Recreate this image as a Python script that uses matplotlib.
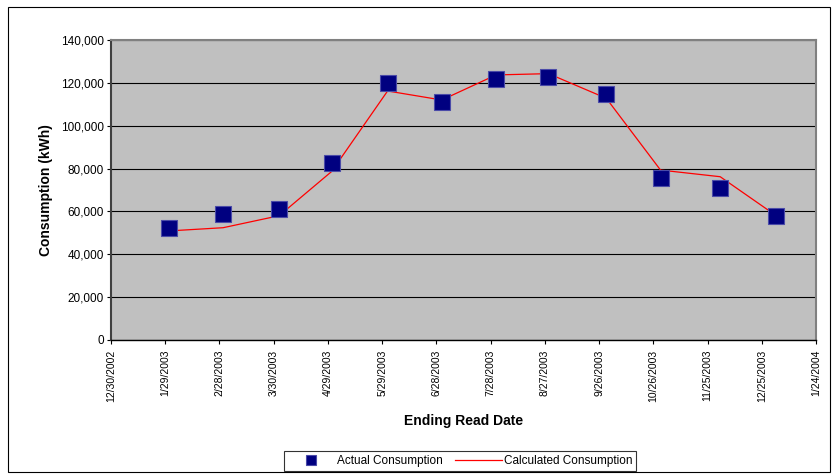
import datetime as dt

import matplotlib
matplotlib.use("Agg")
import matplotlib.pyplot as plt
from matplotlib.patches import Rectangle

plt.rcParams["font.family"] = ["Liberation Sans", "DejaVu Sans"]

# Data
read_dates = ["2003-01-31", "2003-03-02", "2003-04-02", "2003-05-01", "2003-06-01", "2003-07-01",
              "2003-07-31", "2003-08-29", "2003-09-30", "2003-10-30", "2003-12-02", "2004-01-02"]
actual_kwh = [52400, 58600, 61100, 82400, 119800, 110900,
              121600, 122900, 114600, 75400, 71100, 58000]
calculated_kwh = [50900, 52400, 58000, 78600, 116200, 112000,
                  123700, 124300, 112800, 79300, 76200, 58000]

tick_start = dt.date(2002, 12, 30)
tick_count = 14
tick_step_days = 30

dates = [dt.date.fromisoformat(d) for d in read_dates]
ticks = [tick_start + dt.timedelta(days=tick_step_days * i) for i in range(tick_count)]

fig = plt.figure(figsize=(8.35, 4.74), dpi=100)
ax = fig.add_axes([111 / 835, 1 - 340 / 474, 705 / 835, 300 / 474])
ax.set_facecolor("#C0C0C0")

# Outer chart frame
fig.patches.append(Rectangle((8 / 835, 2 / 474), 822 / 835, 465 / 474, transform=fig.transFigure,
                             fill=False, edgecolor="black", linewidth=0.8))

ax.plot(dates, calculated_kwh, color="red", linewidth=0.9, label="Calculated Consumption", zorder=3)
ax.plot(dates, actual_kwh, linestyle="none", marker="s", markersize=12, markerfacecolor="#000080",
        markeredgecolor="#4a4aa8", markeredgewidth=0.8, label="Actual Consumption", zorder=4)

ax.set_xlim(ticks[0], ticks[-1])
ax.set_ylim(0, 140000)
ax.set_yticks(range(0, 140001, 20000))
ax.yaxis.set_major_formatter(matplotlib.ticker.FuncFormatter(lambda v, p: f"{int(v):,}"))
ax.set_xticks(ticks)
ax.set_xticklabels([f"{t.month}/{t.day}/{t.year}" for t in ticks], rotation=90, fontsize=7.5)
ax.tick_params(axis="y", labelsize=8.5, length=3, width=0.8, pad=2)
ax.tick_params(axis="x", length=3, width=0.8, pad=4)
ax.grid(True, axis="y", color="black", linewidth=0.8)
ax.set_axisbelow(True)

for side in ["top", "right"]:
    ax.spines[side].set_color("#808080")
    ax.spines[side].set_linewidth(1.5)
ax.spines["left"].set_color("#404040")
ax.spines["left"].set_linewidth(1.5)
ax.spines["bottom"].set_color("black")
ax.spines["bottom"].set_linewidth(1.0)

ax.set_xlabel("Ending Read Date", fontsize=10, fontweight="bold", labelpad=9)
ax.set_ylabel("Consumption (kWh)", fontsize=10, fontweight="bold", labelpad=6)

handles, labels = ax.get_legend_handles_labels()
leg = fig.legend(handles[::-1], labels[::-1], loc="center", bbox_to_anchor=(460 / 835, 1 - 461 / 474),
                 ncol=2, fontsize=8.5, frameon=True, fancybox=False, edgecolor="black",
                 markerscale=0.6, handlelength=4, handletextpad=0.2, columnspacing=1.0,
                 borderpad=0.3, borderaxespad=0)
leg.get_frame().set_linewidth(0.8)

fig.savefig("out.png", dpi=100)
